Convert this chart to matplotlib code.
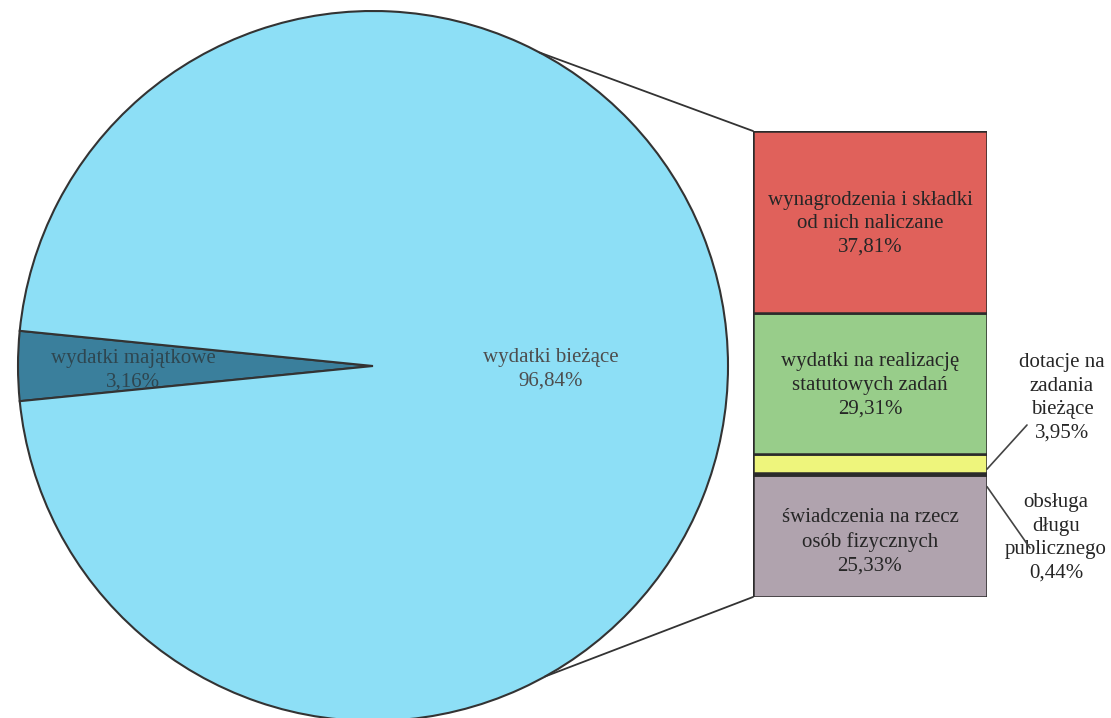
import numpy as np
import matplotlib
matplotlib.use("Agg")
import matplotlib.pyplot as plt
from matplotlib.patches import ConnectionPatch

plt.rcParams['font.family'] = ['Liberation Serif', 'DejaVu Serif']

# pie data
pie_labels = ["wydatki majątkowe", "wydatki bieżące"]
pie_values = [3.16, 96.84]
pie_colors = ["#3a7f9c", "#8ddff6"]

# bar data (bottom -> top)
bar_labels = ["świadczenia na rzecz\nosób fizycznych",
              "obsługa\ndługu\npublicznego",
              "dotacje na\nzadania\nbieżące",
              "wydatki na realizację\nstatutowych zadań",
              "wynagrodzenia i składki\nod nich naliczane"]
bar_values = [25.33, 0.44, 3.95, 29.31, 37.81]
bar_colors = ["#b0a3ae", "#7a6a5e", "#eef57c", "#98cd8a", "#e0615b"]

def pct(v):
    return ("%.2f%%" % v).replace(".", ",")

FS = 15
LS = 1.32

W, H = 1111, 718
fig = plt.figure(figsize=(W / 100, H / 100), dpi=100)
ax = fig.add_axes([0, 0, 1, 1])

cx, cy, r = 373, 366, 355
start = 180 - pie_values[0] / 100 * 360 / 2
wedges, _ = ax.pie(pie_values, colors=pie_colors, startangle=start,
                   center=(cx, cy), radius=r, frame=True,
                   wedgeprops=dict(edgecolor="#333333", linewidth=1.5))
ax.set_xlim(0, W)
ax.set_ylim(H, 0)
ax.axis("off")

ax.text(133, 370, pie_labels[0] + "\n" + pct(pie_values[0]), ha="center", va="center",
        fontsize=FS, color="#2e4650", linespacing=LS)
ax.text(551, 369, pie_labels[1] + "\n" + pct(pie_values[1]), ha="center", va="center",
        fontsize=FS, color="#4d4d4d", linespacing=LS)

# bar
bx0, bx1, by0, by1 = 753, 987, 131, 597
axb = fig.add_axes([bx0 / W, (H - by1) / H, (bx1 - bx0) / W, (by1 - by0) / H])
total = sum(bar_values)
bottoms = np.concatenate([[0], np.cumsum(bar_values)[:-1]])
axb.bar(0, bar_values, bottom=bottoms, width=1, color=bar_colors,
        edgecolor="#2b2b2b", linewidth=1.8)
axb.set_xlim(-0.5, 0.5)
axb.set_ylim(0, total)
axb.axis("off")

for i in [0, 3, 4]:
    axb.text(0, bottoms[i] + bar_values[i] / 2 - (1.2 if i == 0 else 0.4),
             bar_labels[i] + "\n" + pct(bar_values[i]),
             ha="center", va="center", fontsize=FS, color="#262626", linespacing=LS)

# outside labels with leader lines
ax.text(1062, 398, bar_labels[2] + "\n" + pct(bar_values[2]), ha="center", va="center",
        fontsize=FS, color="#262626", linespacing=LS)
ax.text(1056, 538, bar_labels[1] + "\n" + pct(bar_values[1]), ha="center", va="center",
        fontsize=FS, color="#262626", linespacing=LS)
fig.add_artist(ConnectionPatch((0.5, bottoms[2] + 0.8), (1027, 425),
                               coordsA=axb.transData, coordsB=ax.transData,
                               color="#444444", lw=1.2))
fig.add_artist(ConnectionPatch((0.5, bottoms[1] - 2.4), (1030, 548),
                               coordsA=axb.transData, coordsB=ax.transData,
                               color="#444444", lw=1.2))

# connector lines pie -> bar
for ang, yb in [(62, total), (-61, 0)]:
    px = cx + r * np.cos(np.radians(ang))
    py = cy - r * np.sin(np.radians(ang))
    fig.add_artist(ConnectionPatch((px, py), (-0.5, yb),
                                   coordsA=ax.transData, coordsB=axb.transData,
                                   color="#333333", lw=1.3))

fig.savefig("out.png", dpi=100)
